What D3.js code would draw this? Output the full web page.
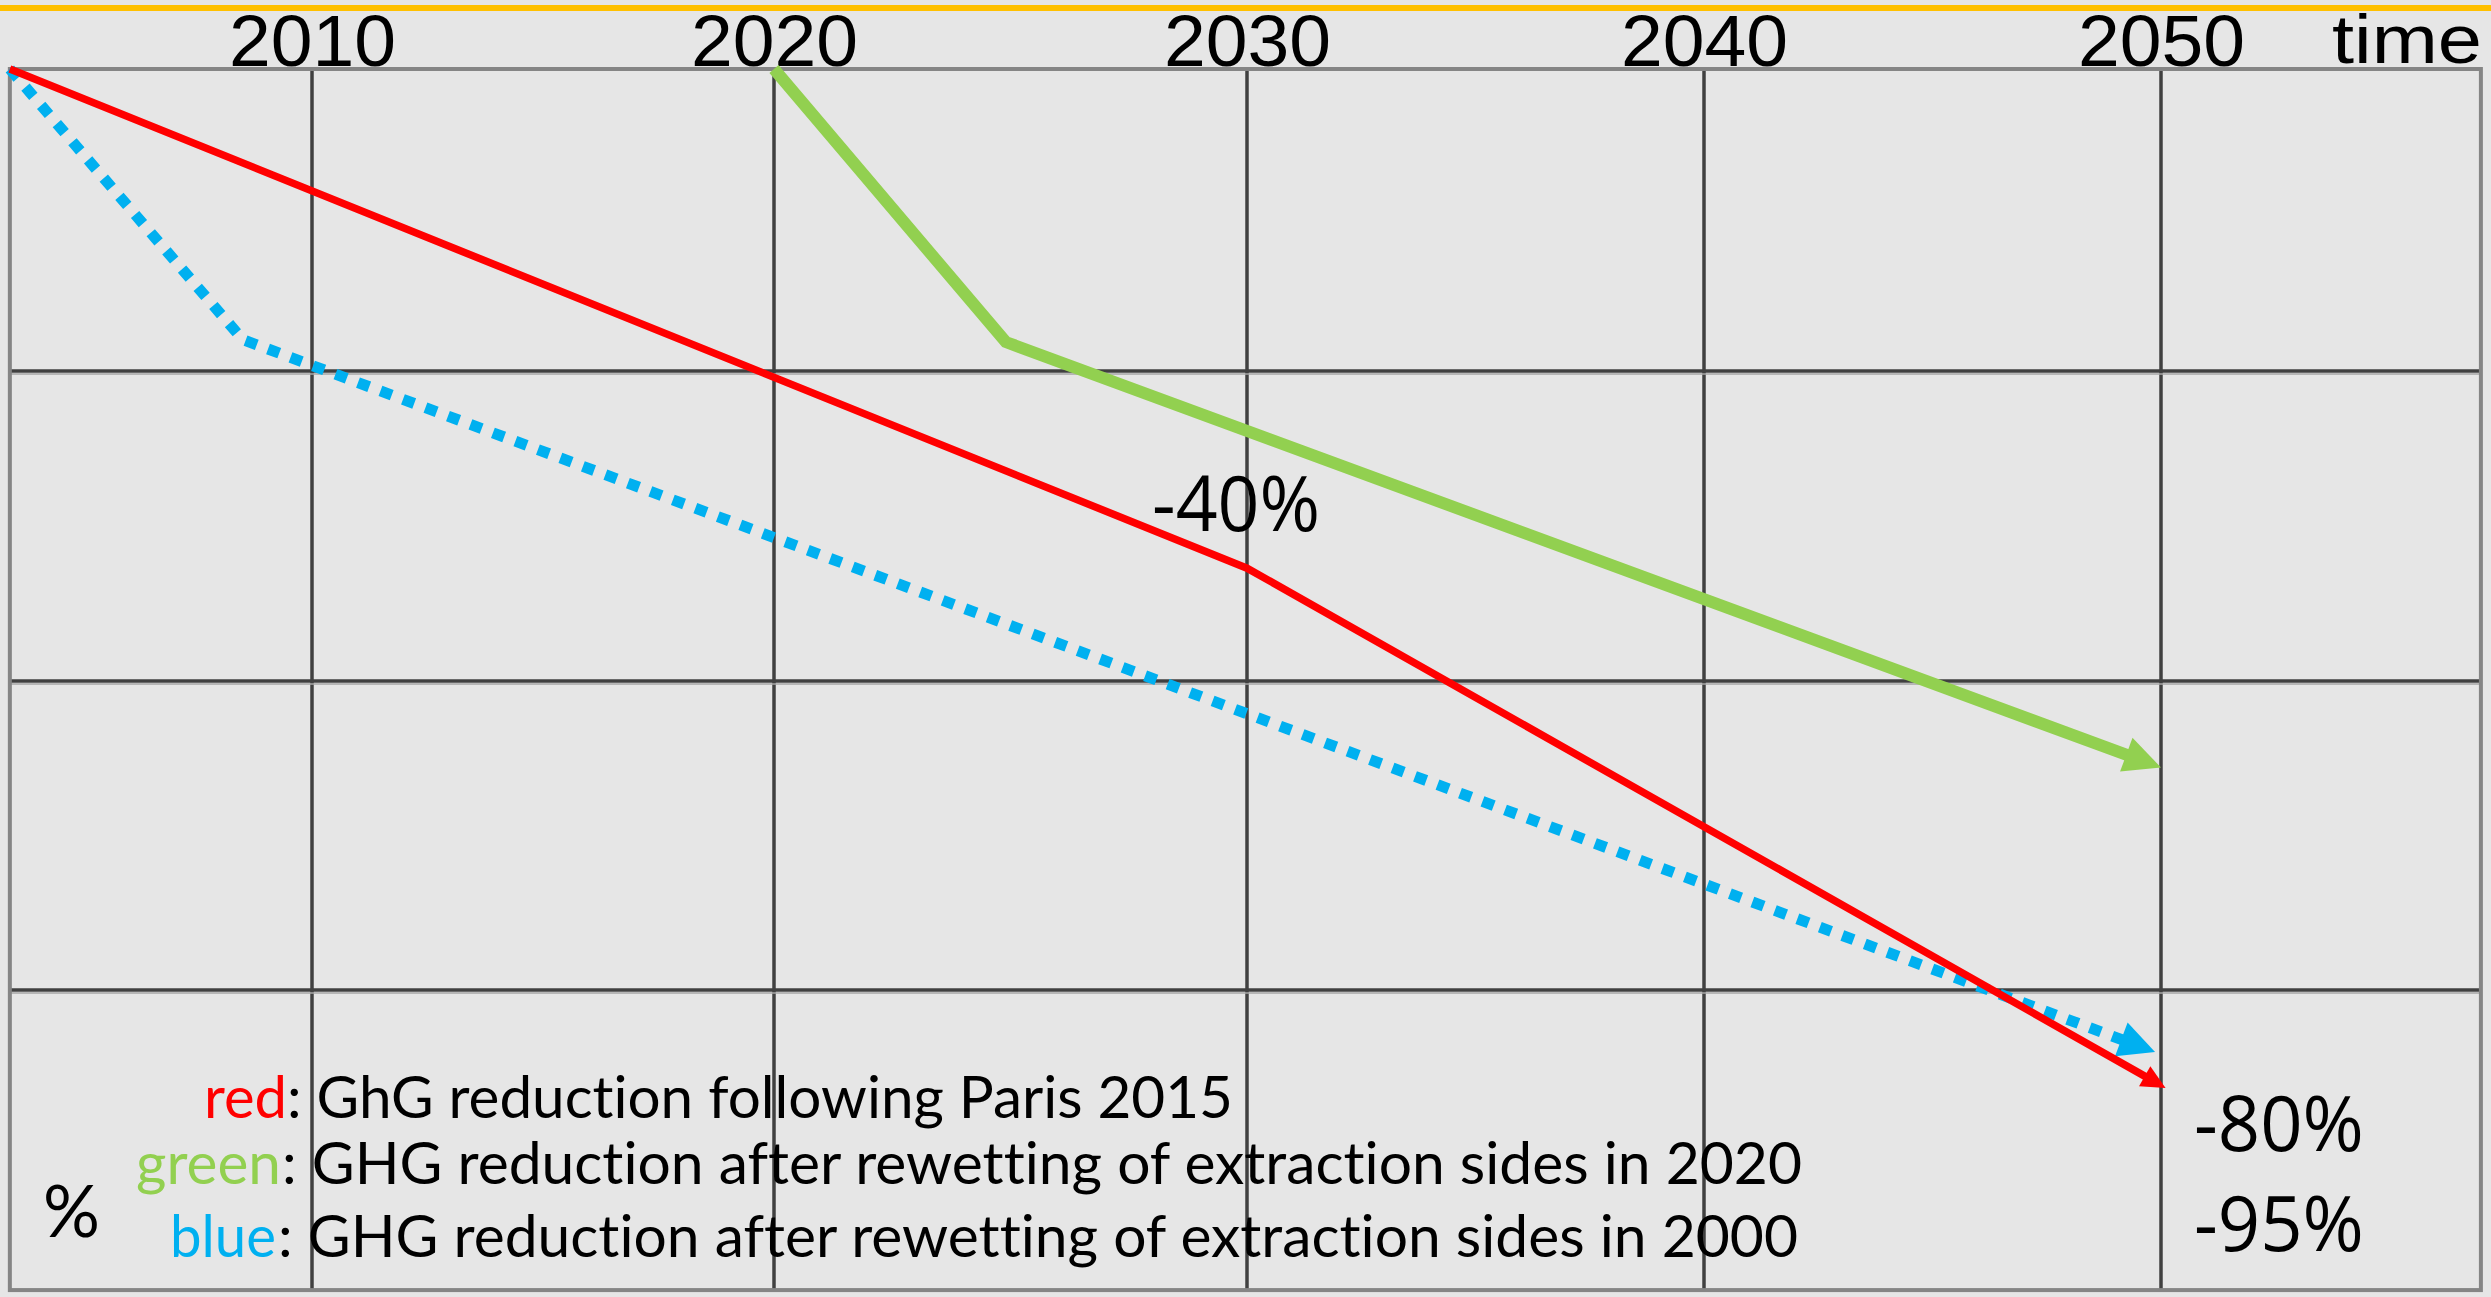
<!DOCTYPE html>
<html>
<head>
<meta charset="utf-8">
<script src="https://cdn.jsdelivr.net/npm/d3@7"></script>
<style>
  html, body { margin: 0; padding: 0; background: #e6e6e6; overflow: hidden; }
  svg { display: block; }
  text { font-variant-ligatures: none; font-feature-settings: "liga" 0, "clig" 0; }
</style>
</head>
<body>
<svg id="chart" width="2491" height="1297"></svg>
<script>
// ---------- data ----------
const tickYears = [2010, 2020, 2030, 2040, 2050];
const tickLabels = ["2010", "2020", "2030", "2040", "2050"];
const gridPct = [-25, -50, -75];

const redYears   = [2003.46, 2030, 2050.1];
const redPct     = [0, -40.9, -82.9];
const greenYears = [2020, 2024.9, 2050];
const greenPct   = [0, -22.6, -57.0];
const blueYears  = [2003.46, 2008.5, 2049.87];
const bluePct    = [0, -22.4, -80.0];

const legendWords = ["red", "green", "blue"];
const legendTexts = [
  ": GhG reduction following Paris 2015",
  ": GHG reduction after rewetting of extraction sides in 2020",
  ": GHG reduction after rewetting of extraction sides in 2000"
];
const annotationTexts = ["-40%", "-80%", "-95%"];
const annotationYears = [2029.77, 2050.72, 2050.72];
const annotationPct   = [-37.9, -88.0, -96.05];

// ---------- setup ----------
const W = 2491, H = 1297;
const svg = d3.select("#chart");
// the reference grid is hand-drawn: decade lines are not perfectly evenly spaced
const x = d3.scaleLinear().domain([2010, 2020, 2030, 2040, 2050]).range([312, 774, 1247, 1704, 2161]);
const y = d3.scaleLinear().domain([0, -25, -50, -75, -100]).range([69, 371, 681, 990, 1300]);
const xMin = 2003.46, xMax = 2057, yMin = -99.2;

svg.append("rect").attr("width", W).attr("height", H).attr("fill", "#e6e6e6");

// orange top rule
svg.append("line").attr("x1", 0).attr("x2", W).attr("y1", 8).attr("y2", 8)
  .attr("stroke", "#ffc000").attr("stroke-width", 6);

// gridlines
const grid = svg.append("g");
grid.selectAll("line.v").data(tickYears).join("line")
  .attr("x1", d => x(d)).attr("x2", d => x(d))
  .attr("y1", y(0)).attr("y2", y(yMin))
  .attr("stroke", "#404040").attr("stroke-width", 3.5);
grid.selectAll("line.hs").data(gridPct).join("line")
  .attr("x1", x(xMin)).attr("x2", x(xMax))
  .attr("y1", d => y(d) + 3).attr("y2", d => y(d) + 3)
  .attr("stroke", "#a6a6a6").attr("stroke-width", 1.5);
grid.selectAll("line.h").data(gridPct).join("line")
  .attr("x1", x(xMin)).attr("x2", x(xMax))
  .attr("y1", d => y(d)).attr("y2", d => y(d))
  .attr("stroke", "#404040").attr("stroke-width", 3.5);

// frame
svg.append("rect")
  .attr("x", x(xMin)).attr("y", y(0))
  .attr("width", x(xMax) - x(xMin)).attr("height", y(yMin) - y(0))
  .attr("fill", "none").attr("stroke", "#858585").attr("stroke-width", 4);

// top axis labels
const axis = d3.axisTop(x).tickValues(tickYears)
  .tickFormat((d, i) => tickLabels[i]).tickSize(0).tickPadding(3);
const ag = svg.append("g").attr("transform", `translate(0,${y(0)})`).call(axis);
ag.select(".domain").remove();
ag.selectAll("text")
  .attr("font-family", "'Liberation Sans Narrow', 'Liberation Sans', Arial, sans-serif")
  .attr("font-size", 72)
  .attr("fill", "#000")
  .attr("textLength", 167)
  .attr("lengthAdjust", "spacingAndGlyphs");

svg.append("text").text("time")
  .attr("x", 2332).attr("y", 63)
  .attr("font-family", "'Liberation Sans Narrow', 'Liberation Sans', Arial, sans-serif")
  .attr("font-size", 69)
  .attr("textLength", 150).attr("lengthAdjust", "spacingAndGlyphs");

// ---------- series ----------
function series(years, pcts) { return years.map((yr, i) => [x(yr), y(pcts[i])]); }
function drawArrow(pts, color, width, L, Wd, dash) {
  const n = pts.length;
  const [tx, ty] = pts[n - 1];
  const [px, py] = pts[n - 2];
  const len = Math.hypot(tx - px, ty - py);
  const ux = (tx - px) / len, uy = (ty - py) / len;
  const bx = tx - L * ux, by = ty - L * uy;
  const linePts = pts.slice(0, n - 1).concat([[bx + 2 * ux, by + 2 * uy]]);
  const path = svg.append("path")
    .attr("d", d3.line()(linePts))
    .attr("fill", "none").attr("stroke", color).attr("stroke-width", width)
    .attr("stroke-linejoin", "miter").attr("stroke-linecap", "butt");
  if (dash) path.attr("stroke-dasharray", dash);
  const c1 = [bx - uy * Wd / 2, by + ux * Wd / 2];
  const c2 = [bx + uy * Wd / 2, by - ux * Wd / 2];
  svg.append("path").attr("d", d3.line()([[tx, ty], c1, c2]) + "Z").attr("fill", color);
}

drawArrow(series(blueYears, bluePct), "#00b0f0", 11, 36, 36, "12 12");
drawArrow(series(greenYears, greenPct), "#92d050", 12, 37, 36, null);
drawArrow(series(redYears, redPct), "#ff0000", 7.5, 24, 23, null);

// ---------- annotations ----------
svg.append("text").text(annotationTexts[0])
  .attr("x", x(annotationYears[0])).attr("y", y(annotationPct[0]))
  .attr("text-anchor", "middle")
  .attr("font-family", "'Open Sans', sans-serif").attr("font-size", 77)
  .attr("textLength", 168).attr("lengthAdjust", "spacingAndGlyphs");
[1, 2].forEach(i => {
  svg.append("text").text(annotationTexts[i])
    .attr("x", x(annotationYears[i])).attr("y", y(annotationPct[i]))
    .attr("font-family", "'Open Sans', sans-serif").attr("font-size", 77)
    .attr("textLength", 170).attr("lengthAdjust", "spacingAndGlyphs");
});

// ---------- legend ----------
const legendColors = ["#ff0000", "#92d050", "#00b0f0"];
const legendBase = [1118, 1184, 1257];
const wordStart = [204, 136, 170];
const wordLen = [83, 145, 106];
const restStart = [287, 282, 278];
const restEnd = [1233, 1802, 1798];
legendWords.forEach((w, i) => {
  svg.append("text").text(w)
    .attr("x", wordStart[i]).attr("y", legendBase[i])
    .attr("fill", legendColors[i])
    .attr("font-family", "Lato, sans-serif").attr("font-size", 58)
    .attr("textLength", wordLen[i]).attr("lengthAdjust", "spacingAndGlyphs");
  svg.append("text").text(legendTexts[i])
    .attr("x", restStart[i]).attr("y", legendBase[i])
    .attr("fill", "#000")
    .attr("font-family", "Lato, sans-serif").attr("font-size", 58)
    .attr("textLength", restEnd[i] - restStart[i]).attr("lengthAdjust", "spacingAndGlyphs");
});

svg.append("text").text("%")
  .attr("x", 43).attr("y", 1237)
  .attr("font-family", "Lato, sans-serif").attr("font-size", 71)
  .attr("textLength", 57).attr("lengthAdjust", "spacingAndGlyphs");
</script>
</body>
</html>
